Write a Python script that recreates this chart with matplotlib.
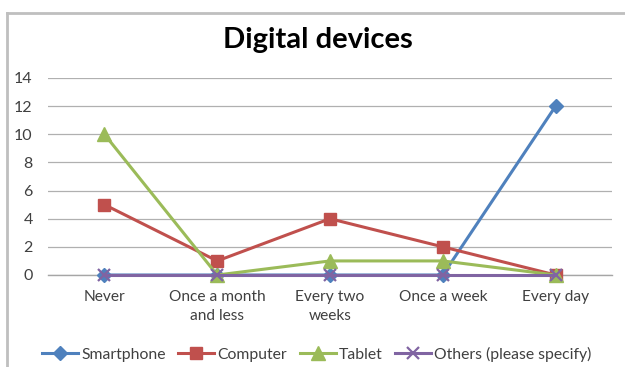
import matplotlib
matplotlib.use("Agg")
import matplotlib.pyplot as plt
from matplotlib.lines import Line2D

categories = ["Never", "Once a month\nand less", "Every two\nweeks", "Once a week", "Every day"]
series_names = ["Smartphone", "Computer", "Tablet", "Others (please specify)"]
smartphone = [0, 0, 0, 0, 12]
computer = [5, 1, 4, 2, 0]
tablet = [10, 0, 1, 1, 0]
others = [0, 0, 0, 0, 0]
yticks = [0, 2, 4, 6, 8, 10, 12, 14]

plt.rcParams['font.family'] = ['Lato', 'DejaVu Sans']

fig = plt.figure(figsize=(6.25, 3.67), dpi=100)
ax = fig.add_axes([48/625, 1-275/367, (612-48)/625, (275-78)/367])

x = list(range(len(categories)))
styles = [
    (smartphone, "#4F81BD", "D", 7),
    (computer, "#C0504D", "s", 8.5),
    (tablet, "#9BBB59", "^", 9.5),
    (others, "#8064A2", "x", 8),
]
for (vals, c, m, ms), name in zip(styles, series_names):
    ax.plot(x, vals, color=c, marker=m, markersize=ms, linewidth=2.2,
            markeredgewidth=1.6 if m == "x" else 1, markeredgecolor=c, markerfacecolor=c,
            label=name, zorder=3, clip_on=False)

ax.set_xlim(-0.5, len(categories) - 0.5)
ax.set_ylim(0, 14)
ax.set_yticks(yticks)
ax.set_xticks(x)
ax.set_xticklabels(categories, fontsize=11.2, color="#404040", linespacing=1.45)
ax.set_yticklabels([str(v) for v in yticks], fontsize=11.5, color="#404040")
ax.tick_params(length=0)
ax.tick_params(axis='x', pad=11)
ax.tick_params(axis='y', pad=11)
ax.grid(axis='y', color="#B0B0B0", linewidth=0.9)
ax.set_axisbelow(True)
for s in ["top", "right", "left"]:
    ax.spines[s].set_visible(False)
ax.spines["bottom"].set_color("#A6A6A6")
ax.spines["bottom"].set_linewidth(1.0)

fig.text(318/625, 1-40/367, "Digital devices", fontsize=21, fontweight="bold",
         ha="center", va="center", color="black")

handles, labels = ax.get_legend_handles_labels()
fig.legend(handles, labels, loc="center", bbox_to_anchor=(0.507, 1-354/367), ncol=4,
           frameon=False, fontsize=11.3, handlelength=2.3, columnspacing=0.8,
           handletextpad=0.2, labelcolor="#404040")

# chart frame
fig.add_artist(Line2D([7/625, 7/625], [0, 1-13/367], transform=fig.transFigure,
                      color="#BFBFBF", linewidth=2))
fig.add_artist(Line2D([7/625, 1], [1-13/367, 1-13/367], transform=fig.transFigure,
                      color="#BFBFBF", linewidth=2))

fig.savefig("out.png", dpi=100)
